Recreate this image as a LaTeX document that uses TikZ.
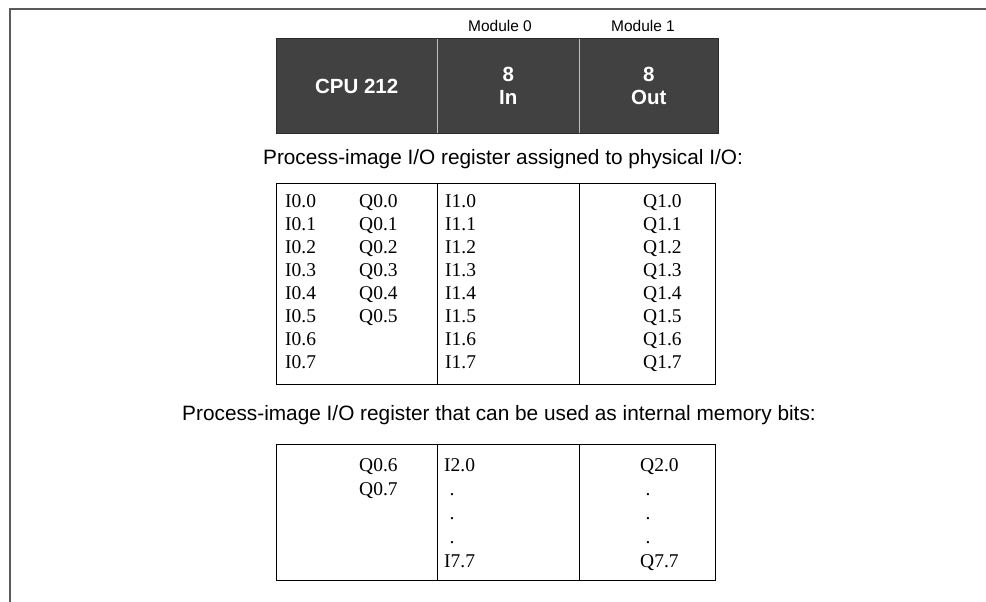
\documentclass[tikz,border=0pt]{standalone}
\usepackage{fontspec}
\setmainfont{Liberation Serif}
\newfontfamily\labelfont{Liberation Sans}
\usetikzlibrary{positioning}

\definecolor{plcgray}{HTML}{414141}
\definecolor{framegray}{HTML}{5A5A5A}
\definecolor{sepgray}{HTML}{BDBDBD}

\tikzset{
  modcell/.style={fill=plcgray, minimum height=94pt, inner sep=0pt, anchor=north west,
    text=white, align=center, font=\labelfont\bfseries\fontsize{20.5}{23}\selectfont},
  regcell/.style={draw=black, line width=1.2pt, inner sep=0pt, anchor=north west},
  entry/.style={anchor=base west, inner sep=0pt, font=\fontsize{19.5}{23}\selectfont},
  caption/.style={anchor=base, inner sep=0pt, font=\labelfont\fontsize{20.8}{24}\selectfont},
  modlabel/.style={anchor=base, inner sep=0pt, font=\labelfont\fontsize{15.5}{18}\selectfont},
}

\begin{document}
\begin{tikzpicture}[x=1pt, y=-1pt]
  \useasboundingbox (0,0) rectangle (986,602);
  % page frame, top and left only
  \draw[framegray, line width=2pt] (986,9) -- (9.5,9) -- (9.5,602);

  % CPU and expansion modules
  \node[modlabel] (lbl0) at (500,32) {Module 0};
  \node[modlabel] (lbl1) at (643,32) {Module 1};
  \node[modcell, minimum width=161pt] (cpu) at (276,39) {CPU 212};
  \node[modcell, minimum width=142pt] (modin) at (437,39) {8\\In};
  \node[modcell, minimum width=139pt] (modout) at (579,39) {8\\Out};
  \draw[sepgray, line width=1.2pt] (cpu.north east) -- (cpu.south east);
  \draw[sepgray, line width=1.2pt] (modin.north east) -- (modin.south east);
  \draw[plcgray!70!black, line width=1pt] (cpu.north west) rectangle (modout.south east);

  \node[caption] (cap1) at (503,164) {Process-image I/O register assigned to physical I/O:};

  % register table, physical I/O
  \node[regcell, minimum width=161pt, minimum height=201pt] (phys0) at (276,183) {};
  \node[regcell, minimum width=142pt, minimum height=201pt] (phys1) at (437,183) {};
  \node[regcell, minimum width=136pt, minimum height=201pt] (phys2) at (579,183) {};
  \foreach \k in {0,...,7} {
    \node[entry] (i0\k) at (285,{207+23*\k}) {I0.\k};
    \node[entry] (i1\k) at (445,{207+23*\k}) {I1.\k};
    \node[entry] (q1\k) at (643,{207+23*\k}) {Q1.\k};
  }
  \foreach \k in {0,...,5}
    \node[entry] (q0\k) at (359,{207+23*\k}) {Q0.\k};

  \node[caption] (cap2) at (499,420) {Process-image I/O register that can be used as internal memory bits:};

  % register table, internal memory bits
  \node[regcell, minimum width=161pt, minimum height=136pt] (mem0) at (276,444) {};
  \node[regcell, minimum width=142pt, minimum height=136pt] (mem1) at (437,444) {};
  \node[regcell, minimum width=136pt, minimum height=136pt] (mem2) at (579,444) {};
  \node[entry] (q06) at (359,471) {Q0.6};
  \node[entry] (q07) at (359,495) {Q0.7};
  \node[entry] (i20) at (444,471) {I2.0};
  \node[entry] (i77) at (444,567) {I7.7};
  \node[entry] (q20) at (640,471) {Q2.0};
  \node[entry] (q77) at (640,567) {Q7.7};
  \foreach \k in {1,2,3} {
    \node[entry] (idot\k) at (449.5,{471+24*\k}) {.};
    \node[entry] (qdot\k) at (645.5,{471+24*\k}) {.};
  }
\end{tikzpicture}
\end{document}
